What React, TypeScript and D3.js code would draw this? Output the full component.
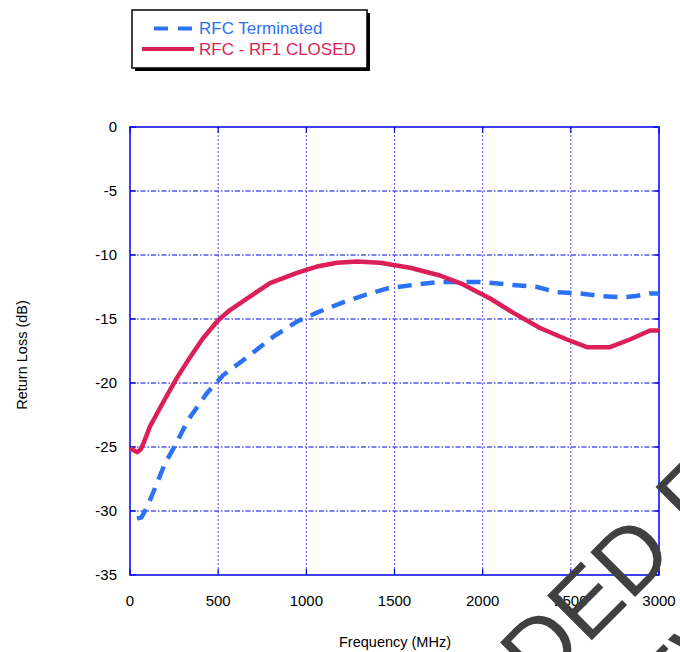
import React from "react";
import * as d3 from "d3";

const freqTerm = [40, 65, 100, 142, 198, 255, 329, 436, 527, 663, 811, 947, 1060, 1208, 1361, 1463, 1600, 1758, 1985, 2138, 2308, 2421, 2552, 2665, 2796, 2870, 2949, 3000];
const rfcTerm = [-30.6, -30.5, -29.6, -28.2, -26.3, -24.9, -22.9, -20.8, -19.4, -18.0, -16.4, -15.2, -14.5, -13.7, -13.0, -12.6, -12.35, -12.1, -12.1, -12.3, -12.5, -12.9, -13.0, -13.2, -13.3, -13.2, -13.0, -13.0];

const freqClosed = [0, 40, 60, 80, 113, 188, 266, 340, 414, 500, 567, 663, 794, 947, 1060, 1174, 1287, 1418, 1588, 1758, 1889, 2042, 2172, 2325, 2478, 2591, 2722, 2835, 2949, 3000];
const rf1Closed = [-25.1, -25.4, -25.2, -24.6, -23.4, -21.5, -19.6, -18.0, -16.5, -15.1, -14.3, -13.4, -12.2, -11.4, -10.9, -10.6, -10.5, -10.6, -11.0, -11.6, -12.3, -13.4, -14.5, -15.7, -16.6, -17.2, -17.2, -16.6, -15.9, -15.9];

const xTicks = [0, 500, 1000, 1500, 2000, 2500, 3000];
const yTicks = [0, -5, -10, -15, -20, -25, -30, -35];
const legendLabels = ["RFC Terminated", "RFC - RF1 CLOSED"];

const BLUE = "#2d72f5";
const RED = "#dc1f56";
const GRID = "#0000e6";
const FONT = "'Liberation Sans', Arial, sans-serif";

export default function App() {
  const x = d3.scaleLinear().domain([0, 3000]).range([130, 659]);
  const y = d3.scaleLinear().domain([-35, 0]).range([575, 127]);
  const line = d3
    .line<[number, number]>()
    .x((d) => x(d[0]))
    .y((d) => y(d[1]));
  const termPts = freqTerm.map((f, i) => [f, rfcTerm[i]] as [number, number]);
  const closedPts = freqClosed.map((f, i) => [f, rf1Closed[i]] as [number, number]);
  const [x0, x1] = x.range();
  const [y0, y1] = y.range();

  return (
    <svg
      width={680}
      height={652}
      style={{ position: "absolute", left: 0, top: 0, background: "#fff" }}
      fontFamily={FONT}
    >
      {/* grid */}
      {yTicks.filter((t) => t !== 0 && t !== -35).map((t) => (
        <line key={"h" + t} x1={x0} x2={x1} y1={y(t)} y2={y(t)} stroke={GRID} strokeWidth={1} strokeDasharray="5,2,1.5,2" />
      ))}
      {xTicks.filter((t) => t !== 0 && t !== 3000).map((t) => (
        <line key={"v" + t} x1={x(t)} x2={x(t)} y1={y1} y2={y0} stroke="#5050f0" strokeWidth={1} strokeDasharray="2,2" />
      ))}
      {/* inner ticks */}
      {yTicks.map((t) => (
        <g key={"ty" + t}>
          <line x1={x0} x2={x0 + 6} y1={y(t)} y2={y(t)} stroke={GRID} strokeWidth={1.2} />
          <line x1={x1 - 6} x2={x1} y1={y(t)} y2={y(t)} stroke={GRID} strokeWidth={1.2} />
        </g>
      ))}
      {xTicks.map((t) => (
        <g key={"tx" + t}>
          <line x1={x(t)} x2={x(t)} y1={y0} y2={y0 - 6} stroke={GRID} strokeWidth={1.2} />
          <line x1={x(t)} x2={x(t)} y1={y1} y2={y1 + 6} stroke={GRID} strokeWidth={1.2} />
        </g>
      ))}
      {/* frame */}
      <rect x={x0} y={y1} width={x1 - x0} height={y0 - y1} fill="none" stroke="#0000ff" strokeWidth={1.5} />

      {/* series */}
      <path d={line(termPts) || ""} fill="none" stroke={BLUE} strokeWidth={4.5} strokeDasharray="14,9" />
      <path d={line(closedPts) || ""} fill="none" stroke={RED} strokeWidth={4.5} strokeLinejoin="round" />

      {/* tick labels */}
      {yTicks.map((t) => (
        <text key={"ly" + t} x={117} y={y(t)} dy="0.36em" textAnchor="end" fontSize={15} fill="#000">
          {t}
        </text>
      ))}
      {xTicks.map((t) => (
        <text key={"lx" + t} x={x(t)} y={606} textAnchor="middle" fontSize={15} fill="#000">
          {t}
        </text>
      ))}
      <text x={395} y={647} textAnchor="middle" fontSize={14.5} fill="#000">
        Frequency (MHz)
      </text>
      <text transform="translate(27,355) rotate(-90)" textAnchor="middle" fontSize={14.5} fill="#000">
        Return Loss (dB)
      </text>

      {/* legend */}
      <rect x={135} y={13} width={235} height={58} fill="#000" />
      <rect x={132} y={10} width={235} height={58} fill="#fff" stroke="#000" strokeWidth={1.5} />
      <line x1={154} x2={192} y1={28.5} y2={28.5} stroke={BLUE} strokeWidth={4} strokeDasharray="14,10" />
      <text x={199} y={34} fontSize={17} fill={BLUE}>{legendLabels[0]}</text>
      <line x1={142} x2={194} y1={49} y2={49} stroke={RED} strokeWidth={4} />
      <text x={199} y={55} fontSize={17} fill={RED}>{legendLabels[1]}</text>

      {/* watermark */}
      <g fill="#404040" fontSize={92} fontFamily={FONT}>
        <text transform="translate(539.5,692.5) rotate(-45)" textAnchor="end">NOT RECOMMEN</text>
        <text transform="translate(539.5,692.5) rotate(-45)" textAnchor="start">DED FOR</text>
        <text transform="translate(622,775) rotate(-45)" textAnchor="start">NEW DESIGNS</text>
      </g>
    </svg>
  );
}
